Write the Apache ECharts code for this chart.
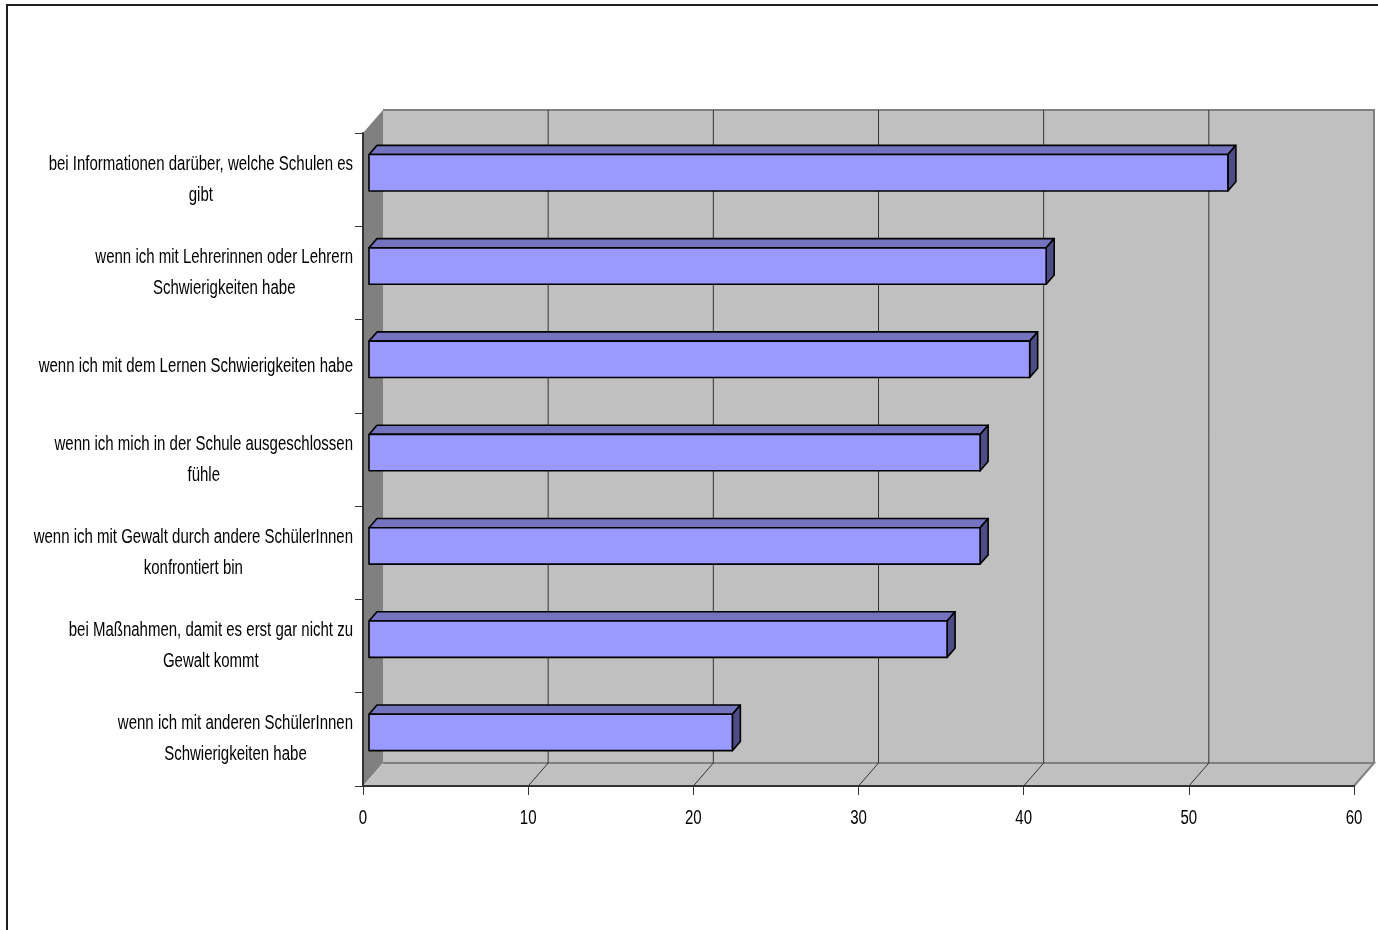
<!DOCTYPE html>
<html>
<head>
<meta charset="utf-8">
<script src="https://cdn.jsdelivr.net/npm/echarts@6/dist/echarts.min.js"></script>
<style>
  html, body { margin: 0; padding: 0; background: #fff; overflow: hidden; }
  #frame { position: absolute; left: 6px; top: 4px; width: 1400px; height: 1000px;
           border-left: 2px solid #1e1e1e; border-top: 2px solid #1e1e1e; }
  #chart { position: absolute; left: 0; top: 0; width: 1378px; height: 930px; }
</style>
</head>
<body>
<div id="frame"></div>
<div id="chart"></div>
<script>
var categories = [
  'bei Informationen darüber, welche Schulen es\ngibt',
  'wenn ich mit Lehrerinnen oder Lehrern\nSchwierigkeiten habe',
  'wenn ich mit dem Lernen Schwierigkeiten habe',
  'wenn ich mich in der Schule ausgeschlossen\nfühle',
  'wenn ich mit Gewalt durch andere SchülerInnen\nkonfrontiert bin',
  'bei Maßnahmen, damit es erst gar nicht zu\nGewalt kommt',
  'wenn ich mit anderen SchülerInnen\nSchwierigkeiten habe'
];
var values = [52, 41, 40, 37, 37, 35, 22];
var xTicks = [0, 10, 20, 30, 40, 50, 60];

var FONT = '"Liberation Sans", Arial, sans-serif';
var FONT_SIZE = 20;
var NARROW = 0.75;   // the source uses a condensed face
// depth of the 3d box
var DX = 20, DY = -23;

var measureCtx = document.createElement('canvas').getContext('2d');
measureCtx.font = FONT_SIZE + 'px ' + FONT;
function maxLineWidth(txt){
  var w = 0;
  txt.split('\n').forEach(function(l){ w = Math.max(w, measureCtx.measureText(l).width); });
  return w;
}

var chart = echarts.init(document.getElementById('chart'));

function narrowText(txt, x, y){
  return {type:'text', x: x, y: y, scaleX: NARROW,
    style:{text: txt, align:'center', verticalAlign:'middle', fill:'#000',
      font: FONT_SIZE + 'px ' + FONT, lineHeight: 31}};
}

function renderWalls(params, api){
  var cs = params.coordSys;
  var x0 = cs.x, x1 = cs.x + cs.width, yT = cs.y, yB = cs.y + cs.height;
  var kids = [];
  kids.push({type:'polygon', shape:{points:[[x0,yT],[x0+DX,yT+DY],[x0+DX,yB+DY],[x0,yB]]},
    style:{fill:'#808080'}});
  kids.push({type:'rect', shape:{x:x0+DX, y:yT+DY, width:x1-x0, height:yB-yT},
    style:{fill:'#c0c0c0'}});
  kids.push({type:'polygon', shape:{points:[[x0,yB],[x1,yB],[x1+DX,yB+DY],[x0+DX,yB+DY]]},
    style:{fill:'#c0c0c0'}});
  // wall edges
  kids.push({type:'polyline', shape:{points:[[x0+DX,yT+DY],[x1+DX,yT+DY],[x1+DX,yB+DY]]},
    style:{stroke:'#808080', lineWidth:2, fill:null}});
  kids.push({type:'polyline', shape:{points:[[x0+DX,yB+DY],[x1+DX,yB+DY],[x1,yB]]},
    style:{stroke:'#808080', lineWidth:2, fill:null}});
  // grid lines on back wall and floor, tick labels
  xTicks.forEach(function(v, i){
    var px = api.coord([v, 0])[0];
    kids.push(narrowText(String(v), px, yB + 32));
    if (i === 0 || i === xTicks.length - 1) return;
    kids.push({type:'line', shape:{x1:px+DX, y1:yT+DY, x2:px+DX, y2:yB+DY},
      style:{stroke:'#333', lineWidth:1}});
    kids.push({type:'line', shape:{x1:px, y1:yB, x2:px+DX, y2:yB+DY},
      style:{stroke:'#333', lineWidth:1}});
  });
  return {type:'group', children:kids};
}

function renderBar(params, api){
  var idx = api.value(1);
  var band = api.size([0, 1])[1];
  var fx = DX * 0.3, fy = DY * 0.3;
  var tx = DX * 0.4, ty = DY * 0.4;
  var start = api.coord([0, idx]);
  var end = api.coord([api.value(0), idx]);
  var h = band * 0.39;
  var xa = start[0] + fx, xb = end[0] + fx;
  var yc = start[1] + fy;
  var yt = yc - h / 2, yb = yc + h / 2;
  var line = {stroke:'#000', lineWidth:1.6, lineJoin:'round'};
  return {type:'group', children:[
    {type:'polygon', shape:{points:[[xa,yt],[xb,yt],[xb+tx,yt+ty],[xa+tx,yt+ty]]},
      style:Object.assign({fill:'#7373bf'}, line)},
    {type:'polygon', shape:{points:[[xb,yt],[xb+tx,yt+ty],[xb+tx,yb+ty],[xb,yb]]},
      style:Object.assign({fill:'#4d4d86'}, line)},
    {type:'rect', shape:{x:xa, y:yt, width:xb-xa, height:h},
      style:Object.assign({fill:'#9999ff'}, line)}
  ]};
}

function renderLabel(params, api){
  var idx = api.value(0);
  var cs = params.coordSys;
  var p = api.coord([0, idx]);
  var txt = categories[idx];
  var w = maxLineWidth(txt) * NARROW;
  return narrowText(txt, cs.x - 10 - w / 2, p[1]);
}

var option = {
  animation: false,
  grid: {left: 363, right: 24, top: 133, bottom: 144},
  xAxis: {
    type: 'value', min: 0, max: 60, interval: 10, z: 5,
    axisLine: {show: true, lineStyle: {color: '#333', width: 2}},
    axisTick: {show: true, length: 9, lineStyle: {color: '#333', width: 1}},
    axisLabel: {show: false},
    splitLine: {show: false}
  },
  yAxis: {
    type: 'category', data: categories, inverse: true, z: 5,
    axisLine: {show: true, lineStyle: {color: '#333', width: 2}},
    axisTick: {show: true, length: 8, lineStyle: {color: '#333', width: 1}},
    axisLabel: {show: false},
    splitLine: {show: false}
  },
  series: [
    {type: 'custom', z: 1, renderItem: renderWalls, data: [[0, 0]], silent: true},
    {type: 'custom', z: 3, renderItem: renderBar,
      data: values.map(function(v, i){ return [v, i]; })},
    {type: 'custom', z: 4, renderItem: renderLabel,
      data: categories.map(function(c, i){ return [i]; }), silent: true}
  ]
};
chart.setOption(option);
</script>
</body>
</html>
